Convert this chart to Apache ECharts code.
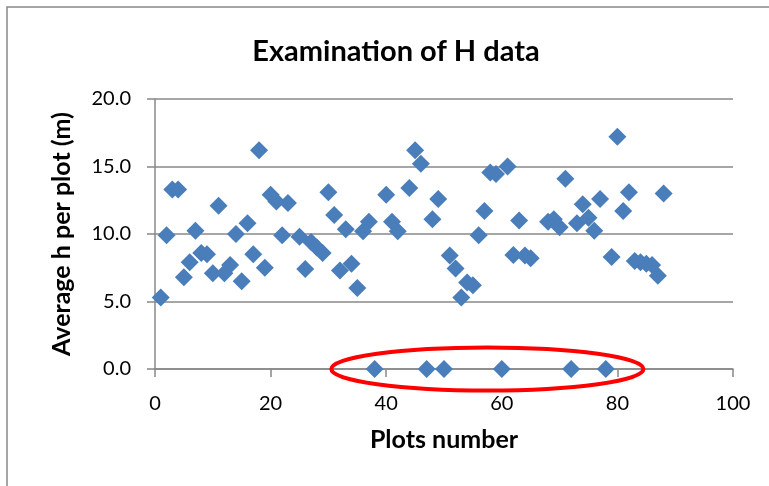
<!DOCTYPE html>
<html><head><meta charset="utf-8">
<script src="https://cdn.jsdelivr.net/npm/echarts@6/dist/echarts.min.js"></script>
<style>html,body{margin:0;padding:0;background:#fff}#c{width:769px;height:486px}</style>
</head><body><div id="c"></div>
<script>
const plotNumbers = [1,2,3,4,5,6,7,8,9,10,11,12,13,14,15,16,17,18,19,20,21,22,23,25,26,27,28,29,30,31,32,33,34,35,36,37,38,40,41,42,44,45,46,47,48,49,50,51,52,53,54,55,56,57,58,59,60,61,62,63,64,65,68,69,70,71,72,73,74,75,76,77,78,79,80,81,82,83,84,85,86,87,88];
const avgH = [5.3,9.9,13.3,13.3,6.8,7.9,10.25,8.6,8.5,7.1,12.1,7.1,7.7,10.0,6.5,10.8,8.5,16.2,7.5,12.9,12.4,9.9,12.3,9.8,7.4,9.4,9.0,8.6,13.1,11.4,7.3,10.35,7.8,6.0,10.2,10.9,0,12.9,10.9,10.2,13.4,16.2,15.2,0,11.1,12.6,0,8.4,7.45,5.3,6.4,6.2,9.9,11.7,14.55,14.45,0,15.0,8.45,11.0,8.4,8.2,10.9,11.1,10.5,14.1,0,10.8,12.2,11.2,10.25,12.6,0,8.3,17.2,11.7,13.1,8.0,7.9,7.8,7.7,6.9,13.0];
const xTicks = [0,20,40,60,80,100];
const yTicks = [0,5,10,15,20];
const highlight = {cx: 57.5, cy: 0, rx: 27, ry: 1.6};

const chart = echarts.init(document.getElementById('c'));
const font = 'Lato, "Open Sans", sans-serif';
chart.setOption({
  animation: false,
  backgroundColor: '#fff',
  title: {text: 'Examination of H data', left: 391, top: 32, textAlign: 'center',
    textStyle: {fontFamily: font, fontSize: 29, fontWeight: 'bold', color: '#000'}},
  grid: {left: 155, right: 36, top: 99, bottom: 117},
  xAxis: {type: 'value', min: xTicks[0], max: xTicks[xTicks.length-1], interval: 20,
    name: 'Plots number', nameLocation: 'middle', nameGap: 58,
    nameTextStyle: {fontFamily: font, fontSize: 25, fontWeight: 'bold', color: '#000'},
    axisLine: {show: true, lineStyle: {color: '#888', width: 1.5}},
    axisTick: {show: true, length: 8, lineStyle: {color: '#888', width: 1.5}},
    axisLabel: {fontFamily: font, fontSize: 20, color: '#000', margin: 25},
    splitLine: {show: false}},
  yAxis: {type: 'value', min: yTicks[0], max: yTicks[yTicks.length-1], interval: 5,
    name: 'Average h per plot (m)', nameLocation: 'middle', nameGap: 81,
    nameTextStyle: {fontFamily: font, fontSize: 25, fontWeight: 'bold', color: '#000'},
    axisLine: {show: true, lineStyle: {color: '#888', width: 1.5}},
    axisTick: {show: true, length: 8, lineStyle: {color: '#888', width: 1.5}},
    axisLabel: {fontFamily: font, fontSize: 20, color: '#000', margin: 24,
      formatter: v => v.toFixed(1)},
    splitLine: {show: true, lineStyle: {color: '#888', width: 1.5}}},
  series: [{type: 'scatter', symbol: 'diamond', symbolSize: 18,
    itemStyle: {color: '#4a7ebb', opacity: 1},
    data: plotNumbers.map((x, i) => [x, avgH[i]])}]
});

const c = chart.convertToPixel({gridIndex: 0}, [highlight.cx, highlight.cy]);
const e = chart.convertToPixel({gridIndex: 0}, [highlight.cx + highlight.rx, highlight.cy + highlight.ry]);
chart.setOption({graphic: [
  {type: 'rect', shape: {x: 7, y: 7, width: 900, height: 700},
    style: {fill: 'none', stroke: '#888', lineWidth: 1.5}, silent: true},
  {type: 'ellipse', shape: {cx: c[0], cy: c[1], rx: e[0] - c[0], ry: c[1] - e[1]},
    style: {fill: 'none', stroke: '#ff0000', lineWidth: 4}, z: 100, silent: true}
]});
</script></body></html>
